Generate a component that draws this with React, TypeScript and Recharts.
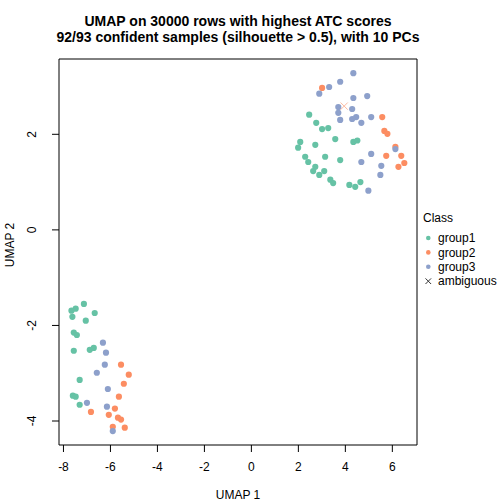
import React from "react";
import { ScatterChart, Scatter, XAxis, YAxis, ReferenceArea } from "recharts";

const FONT = '"Liberation Sans", Arial, Helvetica, sans-serif';

const titleLines = [
  "UMAP on 30000 rows with highest ATC scores",
  "92/93 confident samples (silhouette > 0.5), with 10 PCs",
];
const xLabel = "UMAP 1";
const yLabel = "UMAP 2";
const legendTitle = "Class";
const classNames = ["group1", "group2", "group3", "ambiguous"];
const classColors = ["#66C2A5", "#FC8D62", "#8DA0CB", "#FC8D62"];

const xTicks = [-8, -6, -4, -2, 0, 2, 4, 6];
const yTicks = [-4, -2, 0, 2];
const xDomain = [-8.19, 7.05];
const yDomain = [-4.502, 3.576];

const group1 = [
  { x: 2.46, y: 2.41 }, { x: 2.76, y: 2.24 }, { x: 3.01, y: 2.11 }, { x: 3.27, y: 2.13 },
  { x: 3.57, y: 1.9 }, { x: 4.34, y: 1.84 }, { x: 4.51, y: 1.87 }, { x: 2.08, y: 1.84 },
  { x: 1.99, y: 1.72 }, { x: 2.72, y: 1.78 }, { x: 2.29, y: 1.53 }, { x: 2.42, y: 1.42 },
  { x: 3.14, y: 1.53 }, { x: 3.78, y: 1.46 }, { x: 2.72, y: 1.32 }, { x: 2.63, y: 1.23 },
  { x: 3.1, y: 1.23 }, { x: 2.89, y: 1.15 }, { x: 3.36, y: 1.05 }, { x: 3.48, y: 0.98 },
  { x: 4.17, y: 0.94 }, { x: 4.42, y: 0.9 }, { x: 4.64, y: 1.0 },
  { x: -7.13, y: -1.55 }, { x: -7.48, y: -1.65 }, { x: -7.66, y: -1.69 }, { x: -7.62, y: -1.82 },
  { x: -6.67, y: -1.74 }, { x: -7.05, y: -1.9 }, { x: -7.56, y: -2.15 }, { x: -7.43, y: -2.2 },
  { x: -7.56, y: -2.53 }, { x: -6.88, y: -2.51 }, { x: -6.71, y: -2.47 }, { x: -7.31, y: -3.14 },
  { x: -7.6, y: -3.47 }, { x: -7.48, y: -3.49 }, { x: -7.31, y: -3.66 },
];

const group2 = [
  { x: 3.01, y: 2.97 }, { x: 5.57, y: 2.36 }, { x: 5.66, y: 2.07 }, { x: 5.79, y: 2.01 },
  { x: 5.74, y: 1.55 }, { x: 6.13, y: 1.74 }, { x: 6.38, y: 1.55 }, { x: 6.51, y: 1.4 },
  { x: 6.26, y: 1.32 },
  { x: -5.55, y: -2.82 }, { x: -5.22, y: -3.03 }, { x: -5.43, y: -3.22 }, { x: -5.64, y: -3.49 },
  { x: -6.83, y: -3.81 }, { x: -5.81, y: -3.74 }, { x: -6.07, y: -3.87 }, { x: -5.68, y: -3.93 },
  { x: -5.55, y: -3.97 }, { x: -5.9, y: -4.12 }, { x: -5.39, y: -4.14 },
];

const group3 = [
  { x: 4.34, y: 3.28 }, { x: 3.31, y: 2.99 }, { x: 3.78, y: 3.1 }, { x: 2.89, y: 2.85 },
  { x: 4.34, y: 2.76 }, { x: 4.93, y: 2.8 }, { x: 3.7, y: 2.57 }, { x: 4.29, y: 2.53 },
  { x: 3.7, y: 2.45 }, { x: 3.78, y: 2.3 }, { x: 4.46, y: 2.36 }, { x: 4.29, y: 2.32 },
  { x: 4.68, y: 2.24 }, { x: 5.1, y: 2.36 }, { x: 5.1, y: 1.59 }, { x: 6.13, y: 1.69 },
  { x: 4.68, y: 1.42 }, { x: 5.53, y: 1.34 }, { x: 5.49, y: 1.15 }, { x: 4.98, y: 0.82 },
  { x: -6.32, y: -2.36 }, { x: -6.19, y: -2.57 }, { x: -6.24, y: -2.82 }, { x: -6.58, y: -2.99 },
  { x: -6.11, y: -3.33 }, { x: -7.0, y: -3.62 }, { x: -6.15, y: -3.7 }, { x: -5.9, y: -4.21 },
];

const ambiguous = [{ x: 3.95, y: 2.59 }];

const makeDot = (color: string) => (props: any) =>
  props.cx == null ? <g /> : <circle cx={props.cx} cy={props.cy} r={3.1} fill={color} />;

const cross = (props: any) => {
  if (props.cx == null) return <g />;
  const { cx, cy } = props;
  const s = 3.6;
  return (
    <g stroke={classColors[3]} strokeWidth={1} opacity={0.6}>
      <line x1={cx - s} y1={cy - s} x2={cx + s} y2={cy + s} />
      <line x1={cx - s} y1={cy + s} x2={cx + s} y2={cy - s} />
    </g>
  );
};

const YTick = (props: any) => {
  const { x, y, payload } = props;
  return (
    <text
      x={x}
      y={y}
      transform={`rotate(-90, ${x}, ${y})`}
      textAnchor="middle"
      fontSize={12}
      fill="#000"
      fontFamily={FONT}
    >
      {payload.value}
    </text>
  );
};

export default function App() {
  const legendRows = [238, 252.4, 266.8, 281.2];
  return (
    <div style={{ position: "fixed", left: 0, top: 0, width: 504, height: 504, background: "#fff" }}>
      <ScatterChart width={504} height={504} margin={{ top: 59, right: 87, bottom: 0, left: 0 }}>
        <XAxis
          type="number"
          dataKey="x"
          domain={xDomain}
          ticks={xTicks}
          interval={0}
          allowDataOverflow
          height={59}
          tickSize={7}
          tickMargin={10}
          axisLine={false}
          tickLine={{ stroke: "#000" }}
          tick={{ fill: "#000", fontSize: 12, fontFamily: FONT }}
        />
        <YAxis
          type="number"
          dataKey="y"
          domain={yDomain}
          ticks={yTicks}
          interval={0}
          allowDataOverflow
          width={59}
          tickSize={7}
          tickMargin={16}
          axisLine={false}
          tickLine={{ stroke: "#000" }}
          tick={<YTick />}
        />
        <ReferenceArea
          x1={xDomain[0]}
          x2={xDomain[1]}
          y1={yDomain[0]}
          y2={yDomain[1]}
          fill="none"
          fillOpacity={0}
          stroke="#000"
          strokeWidth={1}
          ifOverflow="visible"
        />
        <Scatter data={group1} isAnimationActive={false} shape={makeDot(classColors[0])} />
        <Scatter data={group2} isAnimationActive={false} shape={makeDot(classColors[1])} />
        <Scatter data={group3} isAnimationActive={false} shape={makeDot(classColors[2])} />
        <Scatter data={ambiguous} isAnimationActive={false} shape={cross} />
      </ScatterChart>
      <svg
        width={504}
        height={504}
        style={{ position: "absolute", left: 0, top: 0, pointerEvents: "none" }}
        fontFamily={FONT}
      >
        <text x={238} y={25.5} textAnchor="middle" fontSize={14} fontWeight="bold" fill="#000">
          {titleLines[0]}
        </text>
        <text x={238} y={41.5} textAnchor="middle" fontSize={14} fontWeight="bold" fill="#000">
          {titleLines[1]}
        </text>
        <text x={238} y={499} textAnchor="middle" fontSize={12} fill="#000">
          {xLabel}
        </text>
        <text x={13.5} y={245} textAnchor="middle" fontSize={12} fill="#000" transform="rotate(-90, 13.5, 245)">
          {yLabel}
        </text>
        <text x={423} y={222} fontSize={12} fill="#000">
          {legendTitle}
        </text>
        {classNames.map((name, i) => (
          <g key={name}>
            {i < 3 ? (
              <circle cx={428.3} cy={legendRows[i]} r={2.3} fill={classColors[i]} />
            ) : (
              <g stroke="#333" strokeWidth={1}>
                <line x1={425.5} y1={legendRows[i] - 2.8} x2={431.1} y2={legendRows[i] + 2.8} />
                <line x1={425.5} y1={legendRows[i] + 2.8} x2={431.1} y2={legendRows[i] - 2.8} />
              </g>
            )}
            <text x={438} y={legendRows[i] + 4.2} fontSize={12} fill="#000">
              {name}
            </text>
          </g>
        ))}
      </svg>
    </div>
  );
}
